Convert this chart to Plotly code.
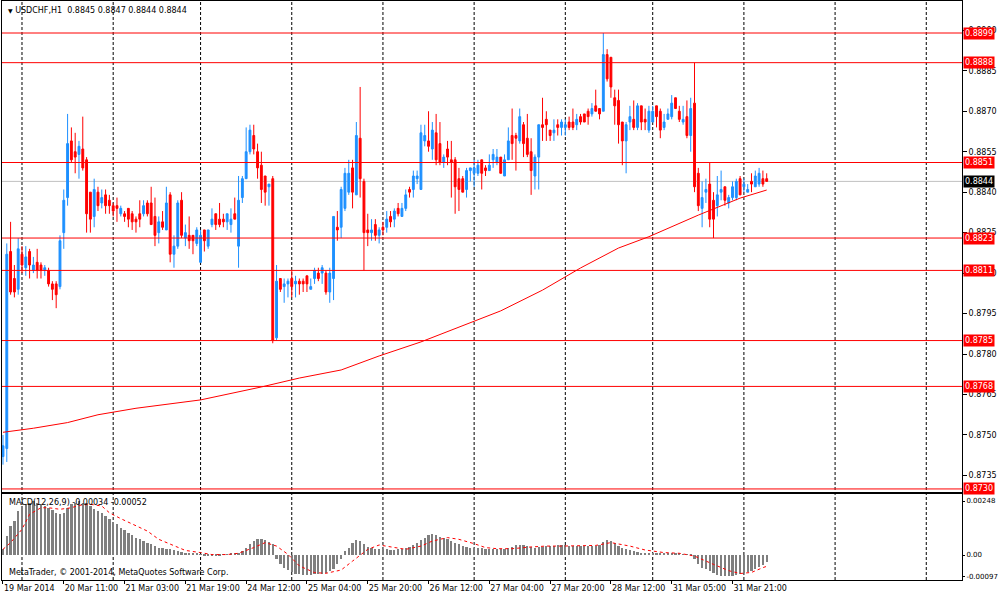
import plotly.graph_objects as go

# USDCHF H1, one entry per bar (bar 0 = 19 Mar 19:00)
opens = [0.8742, 0.8745, 0.8818, 0.8808, 0.8804, 0.8817, 0.8812, 0.8818, 0.8811, 0.8814,
         0.8813, 0.8811, 0.8811, 0.8806, 0.8806, 0.8805, 0.8825, 0.8838, 0.8859, 0.8855,
         0.8854, 0.8856, 0.8852, 0.8840, 0.8831, 0.8840, 0.8836, 0.8839, 0.8837, 0.8835,
         0.8835, 0.8832, 0.8832, 0.8834, 0.8832, 0.8830, 0.8832, 0.8832, 0.8836, 0.8836,
         0.8831, 0.8825, 0.8829, 0.8826, 0.8839, 0.8817, 0.8820, 0.8837, 0.8823, 0.8824,
         0.8824, 0.8821, 0.8814, 0.8826, 0.8820, 0.8828, 0.8832, 0.8830, 0.8830, 0.8829,
         0.8828, 0.8832, 0.8820, 0.8838, 0.8845, 0.8855, 0.8861, 0.8855, 0.8850, 0.8846,
         0.8842, 0.8845, 0.8786, 0.8808, 0.8805, 0.8806, 0.8808, 0.8806, 0.8807, 0.8807,
         0.8809, 0.8804, 0.8808, 0.8810, 0.8810, 0.8810, 0.8803, 0.8808, 0.8827, 0.8827,
         0.8834, 0.8840, 0.8849, 0.8839, 0.8860, 0.8844, 0.8826, 0.8825, 0.8828, 0.8824,
         0.8827, 0.8827, 0.8831, 0.8830, 0.8834, 0.8831, 0.8834, 0.8841, 0.8841, 0.8845,
         0.8841, 0.8859, 0.8859, 0.8856, 0.8862, 0.8858, 0.8851, 0.8856, 0.8852, 0.8852,
         0.8845, 0.8845, 0.8841, 0.8848, 0.8847, 0.8847, 0.8852, 0.8849, 0.8848, 0.8852,
         0.8851, 0.8853, 0.8846, 0.8852, 0.8861, 0.8861, 0.8859, 0.8865, 0.8860, 0.8855,
         0.8846, 0.8853, 0.8865, 0.8867, 0.8863, 0.8862, 0.8865, 0.8864, 0.8864, 0.8866,
         0.8866, 0.8865, 0.8868, 0.8869, 0.8870, 0.8869, 0.8872, 0.8871, 0.8870, 0.8891,
         0.8890, 0.8875, 0.8874, 0.8866, 0.8859, 0.8866, 0.8867, 0.8864, 0.8872, 0.8867,
         0.8863, 0.8866, 0.8872, 0.8870, 0.8864, 0.8867, 0.8868, 0.8875, 0.8870, 0.8866,
         0.8868, 0.8861, 0.8873, 0.8847, 0.8834, 0.8840, 0.8843, 0.8837, 0.8835, 0.8840,
         0.8842, 0.8836, 0.8838, 0.8838, 0.8845, 0.8842, 0.8840, 0.8844, 0.8842, 0.8843,
         0.8845, 0.8845]
highs = [0.8750, 0.8821, 0.8829, 0.8813, 0.8823, 0.8820, 0.8820, 0.8819, 0.8816, 0.8819,
         0.8814, 0.8813, 0.8812, 0.8807, 0.8807, 0.8824, 0.8841, 0.8869, 0.8864, 0.8862,
         0.8859, 0.8868, 0.8853, 0.8840, 0.8845, 0.8842, 0.8841, 0.8841, 0.8839, 0.8836,
         0.8838, 0.8835, 0.8833, 0.8834, 0.8833, 0.8831, 0.8837, 0.8837, 0.8837, 0.8842,
         0.8838, 0.8831, 0.8833, 0.8842, 0.8840, 0.8824, 0.8837, 0.8840, 0.8828, 0.8831,
         0.8824, 0.8827, 0.8826, 0.8826, 0.8826, 0.8834, 0.8832, 0.8836, 0.8832, 0.8832,
         0.8834, 0.8838, 0.8846, 0.8846, 0.8864, 0.8865, 0.8865, 0.8858, 0.8855, 0.8846,
         0.8843, 0.8846, 0.8813, 0.8808, 0.8808, 0.8808, 0.8811, 0.8809, 0.8808, 0.8808,
         0.8809, 0.8808, 0.8812, 0.8812, 0.8813, 0.8811, 0.8812, 0.8831, 0.8833, 0.8842,
         0.8849, 0.8852, 0.8852, 0.8866, 0.8879, 0.8845, 0.8832, 0.8830, 0.8830, 0.8827,
         0.8829, 0.8833, 0.8833, 0.8834, 0.8836, 0.8836, 0.8841, 0.8842, 0.8848, 0.8848,
         0.8865, 0.8865, 0.8870, 0.8866, 0.8869, 0.8866, 0.8854, 0.8859, 0.8859, 0.8853,
         0.8849, 0.8846, 0.8849, 0.8849, 0.8852, 0.8852, 0.8852, 0.8850, 0.8854, 0.8856,
         0.8856, 0.8853, 0.8854, 0.8864, 0.8871, 0.8862, 0.8871, 0.8866, 0.8869, 0.8860,
         0.8854, 0.8865, 0.8875, 0.8870, 0.8863, 0.8867, 0.8867, 0.8867, 0.8867, 0.8868,
         0.8871, 0.8869, 0.8869, 0.8869, 0.8871, 0.8873, 0.8878, 0.8871, 0.8899, 0.8893,
         0.8890, 0.8878, 0.8878, 0.8866, 0.8866, 0.8872, 0.8874, 0.8873, 0.8872, 0.8871,
         0.8872, 0.8872, 0.8872, 0.8871, 0.8869, 0.8871, 0.8876, 0.8875, 0.8872, 0.8872,
         0.8874, 0.8875, 0.8888, 0.8849, 0.8844, 0.8845, 0.8851, 0.8840, 0.8846, 0.8848,
         0.8842, 0.8839, 0.8844, 0.8845, 0.8846, 0.8845, 0.8843, 0.8847, 0.8848, 0.8849,
         0.8848, 0.8847]
lows = [0.8739, 0.8740, 0.8802, 0.8801, 0.8802, 0.8810, 0.8809, 0.8808, 0.8810, 0.8808,
        0.8808, 0.8809, 0.8805, 0.8800, 0.8797, 0.8804, 0.8819, 0.8835, 0.8851, 0.8847,
        0.8845, 0.8848, 0.8825, 0.8825, 0.8827, 0.8833, 0.8834, 0.8832, 0.8832, 0.8831,
        0.8829, 0.8831, 0.8829, 0.8827, 0.8826, 0.8825, 0.8827, 0.8831, 0.8831, 0.8828,
        0.8820, 0.8821, 0.8826, 0.8826, 0.8814, 0.8812, 0.8819, 0.8823, 0.8820, 0.8819,
        0.8817, 0.8820, 0.8814, 0.8818, 0.8819, 0.8827, 0.8826, 0.8827, 0.8827, 0.8826,
        0.8825, 0.8830, 0.8812, 0.8836, 0.8845, 0.8854, 0.8854, 0.8845, 0.8836, 0.8835,
        0.8835, 0.8784, 0.8785, 0.8803, 0.8799, 0.8801, 0.8801, 0.8801, 0.8802, 0.8803,
        0.8803, 0.8804, 0.8806, 0.8807, 0.8806, 0.8802, 0.8799, 0.8800, 0.8822, 0.8823,
        0.8833, 0.8839, 0.8834, 0.8839, 0.8838, 0.8811, 0.8820, 0.8822, 0.8822, 0.8821,
        0.8824, 0.8825, 0.8827, 0.8827, 0.8831, 0.8831, 0.8833, 0.8838, 0.8838, 0.8843,
        0.8841, 0.8857, 0.8855, 0.8852, 0.8850, 0.8850, 0.8849, 0.8850, 0.8838, 0.8832,
        0.8833, 0.8840, 0.8838, 0.8844, 0.8842, 0.8846, 0.8841, 0.8846, 0.8848, 0.8849,
        0.8850, 0.8847, 0.8846, 0.8852, 0.8852, 0.8848, 0.8858, 0.8853, 0.8853, 0.8839,
        0.8841, 0.8841, 0.8859, 0.8859, 0.8859, 0.8859, 0.8861, 0.8861, 0.8861, 0.8863,
        0.8863, 0.8863, 0.8865, 0.8866, 0.8865, 0.8868, 0.8870, 0.8867, 0.8870, 0.8881,
        0.8875, 0.8865, 0.8858, 0.8850, 0.8847, 0.8863, 0.8863, 0.8863, 0.8863, 0.8863,
        0.8862, 0.8866, 0.8864, 0.8860, 0.8863, 0.8867, 0.8867, 0.8871, 0.8866, 0.8865,
        0.8860, 0.8855, 0.8840, 0.8833, 0.8827, 0.8836, 0.8827, 0.8823, 0.8831, 0.8837,
        0.8835, 0.8834, 0.8837, 0.8837, 0.8839, 0.8840, 0.8840, 0.8840, 0.8842, 0.8842,
        0.8842, 0.8844]
closes = [0.8746, 0.8817, 0.8803, 0.8803, 0.8819, 0.8813, 0.8816, 0.8813, 0.8813, 0.8811,
          0.8811, 0.8812, 0.8806, 0.8804, 0.8802, 0.8822, 0.8837, 0.8858, 0.8852, 0.8853,
          0.8857, 0.8849, 0.8832, 0.8830, 0.8841, 0.8835, 0.8838, 0.8835, 0.8835, 0.8833,
          0.8834, 0.8834, 0.8831, 0.8830, 0.8829, 0.8829, 0.8830, 0.8835, 0.8832, 0.8828,
          0.8824, 0.8829, 0.8827, 0.8836, 0.8817, 0.8820, 0.8836, 0.8824, 0.8825, 0.8822,
          0.8822, 0.8826, 0.8824, 0.8822, 0.8826, 0.8830, 0.8828, 0.8828, 0.8829, 0.8832,
          0.8830, 0.8830, 0.8837, 0.8845, 0.8855, 0.8863, 0.8856, 0.8849, 0.8841, 0.8840,
          0.8843, 0.8785, 0.8807, 0.8804, 0.8806, 0.8807, 0.8805, 0.8807, 0.8806, 0.8806,
          0.8806, 0.8805, 0.8811, 0.8808, 0.8812, 0.8803, 0.8810, 0.8831, 0.8826, 0.8841,
          0.8847, 0.8847, 0.8840, 0.8861, 0.8845, 0.8825, 0.8825, 0.8826, 0.8824, 0.8826,
          0.8826, 0.8830, 0.8829, 0.8833, 0.8832, 0.8834, 0.8839, 0.8840, 0.8846, 0.8846,
          0.8862, 0.8861, 0.8857, 0.8863, 0.8852, 0.8851, 0.8853, 0.8853, 0.8851, 0.8842,
          0.8841, 0.8840, 0.8848, 0.8849, 0.8849, 0.8850, 0.8847, 0.8848, 0.8850, 0.8854,
          0.8853, 0.8847, 0.8852, 0.8859, 0.8858, 0.8860, 0.8868, 0.8858, 0.8854, 0.8848,
          0.8853, 0.8865, 0.8864, 0.8865, 0.8861, 0.8863, 0.8864, 0.8866, 0.8865, 0.8864,
          0.8864, 0.8867, 0.8866, 0.8866, 0.8868, 0.8871, 0.8870, 0.8869, 0.8891, 0.8882,
          0.8879, 0.8872, 0.8865, 0.8859, 0.8865, 0.8868, 0.8864, 0.8872, 0.8866, 0.8866,
          0.8870, 0.8870, 0.8868, 0.8863, 0.8866, 0.8869, 0.8873, 0.8871, 0.8867, 0.8867,
          0.8861, 0.8871, 0.8842, 0.8835, 0.8838, 0.8841, 0.8830, 0.8830, 0.8839, 0.8841,
          0.8837, 0.8838, 0.8842, 0.8844, 0.8839, 0.8843, 0.8841, 0.8843, 0.8846, 0.8847,
          0.8843, 0.8844]
bars = list(range(len(closes)))

# moving average (red line), read at a few bars
ma_bars = [0, 8, 17, 25, 35, 52, 68, 78, 89, 99, 110, 123, 131, 142, 152, 162, 170, 183, 194, 201]
ma_vals = [0.87510, 0.87525, 0.87546, 0.87575, 0.87599, 0.87630, 0.87678, 0.87711, 0.87741,
           0.87793, 0.87845, 0.87915, 0.87960, 0.88037, 0.88119, 0.88193, 0.88235, 0.88315,
           0.88378, 0.88408]

# MACD(12,26,9) main values as histogram
macd = [0.00026, 0.00087, 0.00133, 0.00156, 0.00202, 0.00225, 0.00233, 0.00240, 0.00246, 0.00240,
        0.00233, 0.00225, 0.00217, 0.00207, 0.00194, 0.00187, 0.00194, 0.00217, 0.00233, 0.00240,
        0.00246, 0.00240, 0.00237, 0.00225, 0.00210, 0.00202, 0.00194, 0.00179, 0.00164, 0.00152,
        0.00141, 0.00126, 0.00115, 0.00103, 0.00090, 0.00080, 0.00072, 0.00064, 0.00057, 0.00049,
        0.00041, 0.00034, 0.00034, 0.00029, 0.00026, 0.00023, 0.00018, 0.00014, 0.00011, 0.00008,
        0.00005, 0.00005, 0.00002, -0.00002, -0.00002, -0.00002, -0.00002, -0.00002, 0.00002, 0.00003,
        0.00005, 0.00008, 0.00011, 0.00018, 0.00034, 0.00049, 0.00064, 0.00075, 0.00075, 0.00069,
        0.00060, 0.00049, -0.00020, -0.00043, -0.00058, -0.00069, -0.00078, -0.00086, -0.00089, -0.00092,
        -0.00092, -0.00092, -0.00089, -0.00087, -0.00086, -0.00081, -0.00073, -0.00063, -0.00043, -0.00020,
        0.00018, 0.00034, 0.00057, 0.00069, 0.00064, 0.00049, 0.00038, 0.00034, 0.00029, 0.00029,
        0.00026, 0.00026, 0.00023, 0.00023, 0.00026, 0.00029, 0.00034, 0.00038, 0.00044, 0.00054,
        0.00069, 0.00080, 0.00090, 0.00095, 0.00090, 0.00084, 0.00080, 0.00072, 0.00064, 0.00057,
        0.00049, 0.00041, 0.00037, 0.00034, 0.00034, 0.00031, 0.00031, 0.00029, 0.00029, 0.00026,
        0.00026, 0.00026, 0.00026, 0.00031, 0.00038, 0.00044, 0.00047, 0.00046, 0.00041, 0.00037,
        0.00034, 0.00037, 0.00038, 0.00040, 0.00041, 0.00043, 0.00044, 0.00046, 0.00044, 0.00043,
        0.00041, 0.00041, 0.00041, 0.00041, 0.00041, 0.00041, 0.00043, 0.00046, 0.00059, 0.00067,
        0.00064, 0.00054, 0.00041, 0.00031, 0.00026, 0.00023, 0.00018, 0.00014, 0.00011, 0.00011,
        0.00011, 0.00011, 0.00011, 0.00011, 0.00011, 0.00011, 0.00008, 0.00008, 0.00005, 0.00003,
        0.00002, 0.00002, -0.00020, -0.00041, -0.00058, -0.00066, -0.00073, -0.00085, -0.00094, -0.00096,
        -0.00096, -0.00096, -0.00096, -0.00093, -0.00089, -0.00084, -0.00078, -0.00073, -0.00066, -0.00056,
        -0.00045, -0.00034]
sig_bars = [0, 2, 5, 7, 10, 12, 15, 18, 20, 23, 26, 28, 31, 34, 38, 41, 45, 48, 52, 55, 59, 62,
            66, 69, 72, 75, 78, 82, 85, 89, 92, 96, 99, 103, 106, 110, 113, 117, 120, 124, 127,
            130, 134, 139, 143, 147, 152, 156, 160, 165, 169, 174, 178, 182, 187, 191, 194, 197,
            200, 201]
sig_vals = [0.00026, 0.00057, 0.00118, 0.00187, 0.00217, 0.00217, 0.00210, 0.00217, 0.00228,
            0.00233, 0.00225, 0.00194, 0.00167, 0.00141, 0.00110, 0.00072, 0.00041, 0.00021,
            0.00011, 0.00002, 0.00002, 0.00008, 0.00034, 0.00057, 0.00041, 0.00003, -0.00050,
            -0.00081, -0.00084, -0.00069, -0.00028, 0.00026, 0.00046, 0.00034, 0.00026, 0.00041,
            0.00064, 0.00080, 0.00072, 0.00052, 0.00034, 0.00029, 0.00029, 0.00037, 0.00041,
            0.00041, 0.00041, 0.00044, 0.00057, 0.00041, 0.00023, 0.00011, 0.00008, -0.00005,
            -0.00043, -0.00072, -0.00085, -0.00080, -0.00058, -0.00052]

levels = [0.8899, 0.8888, 0.8851, 0.8823, 0.8811, 0.8785, 0.8768, 0.8730]
bid = 0.8844
price_ticks = [0.8735, 0.8750, 0.8765, 0.8780, 0.8795, 0.8810, 0.8825, 0.8840, 0.8855, 0.8870, 0.8885, 0.8900]
day_bars = [5, 29, 52, 76, 100, 124, 148, 171, 195, 219, 243]
xlabel_bars = [0, 16, 32, 48, 64, 80, 96, 112, 128, 144, 160, 176, 192]
xlabel_text = ["19 Mar 2014", "20 Mar 11:00", "21 Mar 03:00", "21 Mar 19:00", "24 Mar 12:00",
               "25 Mar 04:00", "25 Mar 20:00", "26 Mar 12:00", "27 Mar 04:00", "27 Mar 20:00",
               "28 Mar 12:00", "31 Mar 05:00", "31 Mar 21:00"]

FONT = "DejaVu Sans"
BLUE = "#1E90FF"
RED = "#FF0000"

fig = go.Figure()

fig.add_trace(go.Candlestick(
    x=bars, open=opens, high=highs, low=lows, close=closes,
    increasing=dict(line=dict(color=BLUE, width=1), fillcolor=BLUE),
    decreasing=dict(line=dict(color=RED, width=1), fillcolor=RED),
    whiskerwidth=0, xaxis="x", yaxis="y", showlegend=False, hoverinfo="skip"))

fig.add_trace(go.Scatter(x=ma_bars, y=ma_vals, mode="lines", line=dict(color=RED, width=1),
                         xaxis="x", yaxis="y", showlegend=False, hoverinfo="skip"))

fig.add_trace(go.Bar(x=bars, y=macd, width=0.6, marker=dict(color="#7f7f7f", line=dict(width=0)),
                     xaxis="x2", yaxis="y2", showlegend=False, hoverinfo="skip"))

fig.add_trace(go.Scatter(x=sig_bars, y=sig_vals, mode="lines", line=dict(color=RED, width=1, dash="dot"),
                         xaxis="x2", yaxis="y2", showlegend=False, hoverinfo="skip"))

shapes = []
for d in day_bars:
    shapes.append(dict(type="line", xref="x", yref="paper", x0=d, x1=d, y0=0, y1=1,
                       line=dict(color="black", width=1, dash="3px,2px"), layer="below"))
shapes.append(dict(type="line", xref="paper", yref="y", x0=0, x1=1, y0=bid, y1=bid,
                   line=dict(color="#c0c0c0", width=1), layer="below"))
for lv in levels:
    shapes.append(dict(type="line", xref="paper", yref="y", x0=0, x1=1, y0=lv, y1=lv,
                       line=dict(color=RED, width=1)))

annotations = []
for lv in levels:
    annotations.append(dict(xref="paper", yref="y", x=1, y=lv, xanchor="left", yanchor="middle",
                            xshift=1, text=f"{lv:.4f}", showarrow=False, bgcolor=RED, borderpad=1,
                            font=dict(family=FONT, size=8, color="white")))
annotations.append(dict(xref="paper", yref="y", x=1, y=bid, xanchor="left", yanchor="middle",
                        xshift=1, text=f"{bid:.4f}", showarrow=False, bgcolor="black", borderpad=1,
                        font=dict(family=FONT, size=8, color="white")))
annotations.append(dict(xref="paper", yref="paper", x=0, y=1, xanchor="left", yanchor="top",
                        xshift=4, yshift=-3, showarrow=False,
                        text="<span style='font-size:6px'>▼</span> USDCHF,H1  0.8845 0.8847 0.8844 0.8844",
                        font=dict(family=FONT, size=8, color="black")))
annotations.append(dict(xref="paper", yref="y2 domain", x=0, y=1, xanchor="left", yanchor="top",
                        xshift=5, yshift=-2, showarrow=False,
                        text="MACD(12,26,9) -0.00034 -0.00052",
                        font=dict(family=FONT, size=8, color="black")))
annotations.append(dict(xref="paper", yref="y2 domain", x=0, y=0, xanchor="left", yanchor="bottom",
                        xshift=5, yshift=1, showarrow=False,
                        text="MetaTrader, © 2001-2014, MetaQuotes Software Corp.",
                        font=dict(family=FONT, size=8, color="black")))

axis_common = dict(showline=True, linecolor="black", linewidth=1, mirror=True, showgrid=False,
                   zeroline=False, automargin=False)
tick_font = dict(family=FONT, size=8, color="black")

fig.update_layout(
    width=1000, height=598, autosize=False,
    margin=dict(l=2, r=38, t=1, b=18),
    paper_bgcolor="white", plot_bgcolor="white",
    showlegend=False, bargap=0,
    xaxis=dict(domain=[0, 1], range=[-0.26, 252.4], showticklabels=False, ticks="",
               rangeslider=dict(visible=False), anchor="y", **axis_common),
    yaxis=dict(domain=[0.152, 1], range=[0.872887, 0.891086], side="right", tickvals=price_ticks,
               tickformat=".4f", ticks="outside", ticklen=4, tickcolor="black", anchor="x",
               tickfont=tick_font, **axis_common),
    xaxis2=dict(domain=[0, 1], range=[-0.26, 252.4], matches="x", anchor="y2",
                tickvals=xlabel_bars, ticktext=xlabel_text, ticks="outside", ticklen=3,
                tickcolor="black", ticklabelposition="outside right", tickangle=0,
                tickfont=tick_font, **axis_common),
    yaxis2=dict(domain=[0, 0.1485], range=[-0.001148, 0.002801], side="right",
                tickvals=[0.00248, 0.0, -0.00097], ticktext=["0.00248", "0.00", "-0.00097"],
                ticks="outside", ticklen=2, tickcolor="black", anchor="x2",
                tickfont=dict(family=FONT, size=7, color="black"), **axis_common),
    shapes=shapes, annotations=annotations,
)

fig.write_html("out.html", config={"displayModeBar": False},
               post_script="document.body.style.margin='0';document.body.style.overflow='hidden';")
